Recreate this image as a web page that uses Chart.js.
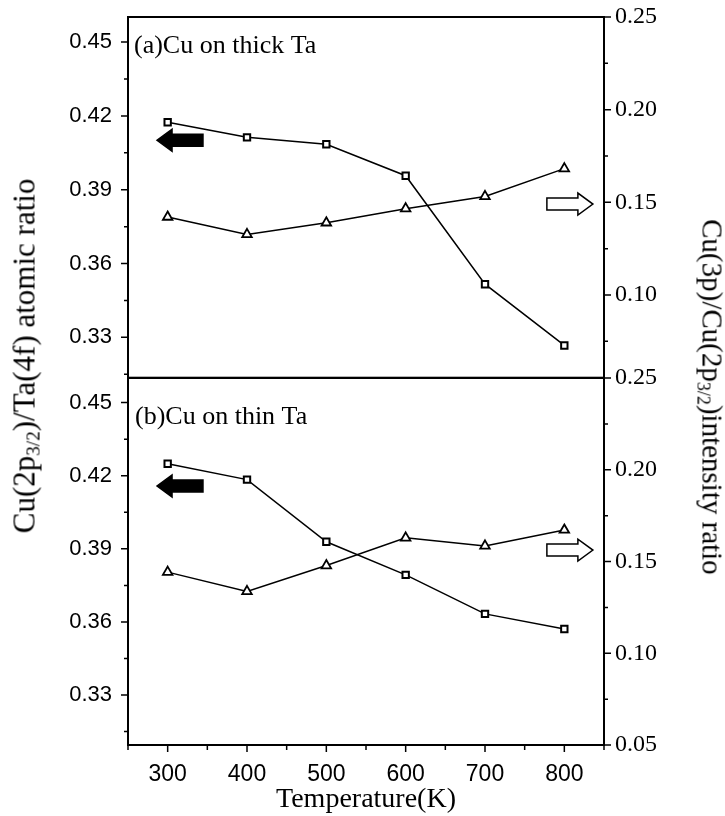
<!DOCTYPE html>
<html>
<head>
<meta charset="utf-8">
<script src="https://cdn.jsdelivr.net/npm/chart.js@4.4.0/dist/chart.umd.min.js"></script>
<style>
  html, body { margin: 0; padding: 0; background: #fff; }
  #wrap { position: relative; width: 725px; height: 816px; overflow: hidden; }
  canvas { position: absolute; left: 0; }
  #topChart { top: 0; }
  #botChart { top: 340px; }
  .ytitle { position: absolute; white-space: nowrap; font-family: 'Liberation Serif', 'Times New Roman', serif; line-height: 1; color: #000; }
  .ytitle sub { font-size: 0.62em; vertical-align: baseline; position: relative; top: 0.28em; }
  #leftTitle { font-size: 31px; left: 24px; top: 356px; transform: translate(-50%, -50%) rotate(-90deg); }
  #rightTitle { font-size: 29px; left: 712px; top: 397px; transform: translate(-50%, -50%) rotate(90deg); }
</style>
</head>
<body>
<div id="wrap">
  <canvas id="topChart" width="725" height="385"></canvas>
  <canvas id="botChart" width="725" height="476"></canvas>
  <div id="leftTitle" class="ytitle">Cu(2p<sub>3/2</sub>)/Ta(4f) atomic ratio</div>
  <div id="rightTitle" class="ytitle">Cu(3p)/Cu(2p<sub>3/2</sub>)intensity ratio</div>
</div>
<script>
// data
const temps = [300, 400, 500, 600, 700, 800];
const thickAtomic = [0.4174, 0.4113, 0.4085, 0.3957, 0.3516, 0.3267];
const thickIntensity = [0.1421, 0.1327, 0.1390, 0.1466, 0.1532, 0.1682];
const thinAtomic = [0.4249, 0.4184, 0.3929, 0.3793, 0.3633, 0.3571];
const thinIntensity = [0.1442, 0.1337, 0.1478, 0.1629, 0.1585, 0.1672];

// tick labels
const xTicks = [300, 400, 500, 600, 700, 800];
const leftTicks = [0.33, 0.36, 0.39, 0.42, 0.45];
const rightTicksTop = [0.10, 0.15, 0.20, 0.25];
const rightTicksBot = [0.05, 0.10, 0.15, 0.20, 0.25];

const sans = "'Liberation Sans', Arial, sans-serif";
const serif = "'Liberation Serif', 'Times New Roman', serif";

function pts(ys) {
  return temps.map((t, i) => ({ x: t, y: ys[i] }));
}

function fixedTicks(list) {
  return function(scale) { scale.ticks = list.map(v => ({ value: v })); };
}

// majors plus the half-step minors inside the axis range
function allTicks(list, min, max) {
  const half = (list[1] - list[0]) / 2;
  const out = [];
  let v = list[0];
  while (v - half >= min - 1e-9) v -= half;
  for (; v <= max + 1e-9; v += half) out.push(v);
  return out;
}

// box round the plot area + outward tick marks
const frame = {
  id: 'frame',
  afterDatasetsDraw(chart, args, opts) {
    const { ctx, chartArea: a } = chart;
    ctx.save();
    ctx.strokeStyle = '#000';
    ctx.lineWidth = 1.5;
    ctx.beginPath();
    opts.axes.forEach(ax => {
      const sc = chart.scales[ax.id];
      allTicks(ax.ticks, sc.min, sc.max).forEach(v => {
        const major = ax.ticks.some(t => Math.abs(t - v) < 1e-6);
        const len = major ? 7 : 4;
        const p = sc.getPixelForValue(v);
        if (sc.isHorizontal()) {
          ctx.moveTo(p, a.bottom);
          ctx.lineTo(p, a.bottom + (major ? 7 : 5));
        } else {
          const x0 = sc.position === 'left' ? a.left : a.right;
          const d = sc.position === 'left' ? -1 : 1;
          ctx.moveTo(x0, p);
          ctx.lineTo(x0 + d * len, p);
        }
      });
    });
    ctx.stroke();
    ctx.lineWidth = 2;
    ctx.strokeRect(a.left, a.top, a.right - a.left, a.bottom - a.top);
    ctx.restore();
  }
};

function drawArrow(ctx, x0, x1, y, fill) {
  const dir = Math.sign(x1 - x0);
  const head = 15, hh = 11, sh = 6;
  const xb = x1 - dir * head;
  ctx.beginPath();
  ctx.moveTo(x0, y - sh);
  ctx.lineTo(xb, y - sh);
  ctx.lineTo(xb, y - hh);
  ctx.lineTo(x1, y);
  ctx.lineTo(xb, y + hh);
  ctx.lineTo(xb, y + sh);
  ctx.lineTo(x0, y + sh);
  ctx.closePath();
  ctx.fillStyle = fill;
  ctx.fill();
  ctx.lineWidth = 1.5;
  ctx.strokeStyle = '#000';
  ctx.stroke();
}

// panel label and the axis arrows
const notes = {
  id: 'notes',
  afterDatasetsDraw(chart, args, opts) {
    const { ctx, chartArea: a, scales } = chart;
    ctx.save();
    opts.arrows.forEach(ar => {
      drawArrow(ctx, scales.x.getPixelForValue(ar.from), scales.x.getPixelForValue(ar.to),
        scales[ar.axis].getPixelForValue(ar.y), ar.fill);
    });
    ctx.fillStyle = '#000';
    ctx.font = '26px ' + serif;
    ctx.textBaseline = 'alphabetic';
    ctx.textAlign = 'left';
    ctx.fillText(opts.label, a.left + opts.dx, a.top + opts.dy);
    ctx.restore();
  }
};

function lineSet(data, axis, style, r, bw) {
  return {
    data: data,
    yAxisID: axis,
    borderColor: '#000',
    borderWidth: 1.5,
    pointStyle: style,
    pointRadius: r,
    pointBorderWidth: bw,
    pointBackgroundColor: '#fff',
    pointBorderColor: '#000',
    tension: 0,
    fill: false
  };
}

function yScale(pos, min, max, list, font) {
  return {
    type: 'linear',
    position: pos,
    min: min,
    max: max,
    afterBuildTicks: fixedTicks(list),
    afterFit: s => {
      s.width = pos === 'left' ? 128 : 121;
      s.paddingTop = 0;
      s.paddingBottom = 0;
    },
    grid: { display: false, drawTicks: false },
    border: { display: false },
    ticks: {
      font: font,
      color: '#000',
      padding: pos === 'left' ? 16 : 11,
      callback: v => v.toFixed(2)
    }
  };
}

const commonPlugins = {
  legend: { display: false },
  tooltip: { enabled: false }
};

// (a) thick Ta
new Chart(document.getElementById('topChart'), {
  type: 'line',
  data: {
    datasets: [
      lineSet(pts(thickAtomic), 'yL', 'rect', 4.5, 2),
      lineSet(pts(thickIntensity), 'yR', 'triangle', 5.5, 1.8)
    ]
  },
  options: {
    responsive: false,
    animation: false,
    layout: { padding: { top: 17, bottom: 2, left: 0, right: 0 } },
    scales: {
      x: {
        type: 'linear', min: 250, max: 850, display: false,
        grid: { display: false, drawTicks: false },
        afterFit: s => { s.height = 0; s.paddingLeft = 0; s.paddingRight = 0; }
      },
      yL: yScale('left', 0.3136, 0.4602, leftTicks, { family: sans, size: 22 }),
      yR: yScale('right', 0.0554, 0.25, rightTicksTop, { family: serif, size: 24 })
    },
    plugins: Object.assign({}, commonPlugins, {
      frame: { axes: [{ id: 'yL', ticks: leftTicks }, { id: 'yR', ticks: rightTicksTop }] },
      notes: {
        label: '(a)Cu on thick Ta', dx: 6, dy: 36,
        arrows: [
          { axis: 'yL', from: 344.5, to: 286.6, y: 0.4101, fill: '#000' },
          { axis: 'yR', from: 778, to: 836, y: 0.1491, fill: '#fff' }
        ]
      }
    })
  },
  plugins: [frame, notes]
});

// (b) thin Ta
new Chart(document.getElementById('botChart'), {
  type: 'line',
  data: {
    datasets: [
      lineSet(pts(thinAtomic), 'yL', 'rect', 4.5, 2),
      lineSet(pts(thinIntensity), 'yR', 'triangle', 5.5, 1.8)
    ]
  },
  options: {
    responsive: false,
    animation: false,
    layout: { padding: { top: 38, bottom: 0, left: 0, right: 0 } },
    scales: {
      x: {
        type: 'linear',
        min: 250,
        max: 850,
        afterBuildTicks: fixedTicks(xTicks),
        afterFit: s => { s.height = 71; s.paddingLeft = 0; s.paddingRight = 0; },
        grid: { display: false, drawTicks: false },
        border: { display: false },
        ticks: { font: { family: sans, size: 23 }, color: '#000', padding: 16, maxRotation: 0, autoSkip: false },
        title: { display: true, text: 'Temperature(K)', font: { family: serif, size: 28 }, color: '#000', padding: { top: 0, bottom: 0 } }
      },
      yL: yScale('left', 0.3095, 0.4601, leftTicks, { family: sans, size: 22 }),
      yR: yScale('right', 0.05, 0.25, rightTicksBot, { family: serif, size: 24 })
    },
    plugins: Object.assign({}, commonPlugins, {
      frame: { axes: [{ id: 'x', ticks: xTicks }, { id: 'yL', ticks: leftTicks }, { id: 'yR', ticks: rightTicksBot }] },
      notes: {
        label: '(b)Cu on thin Ta', dx: 7, dy: 46,
        arrows: [
          { axis: 'yL', from: 344.5, to: 286.6, y: 0.4158, fill: '#000' },
          { axis: 'yR', from: 778, to: 836, y: 0.1562, fill: '#fff' }
        ]
      }
    })
  },
  plugins: [frame, notes]
});
</script>
</body>
</html>
